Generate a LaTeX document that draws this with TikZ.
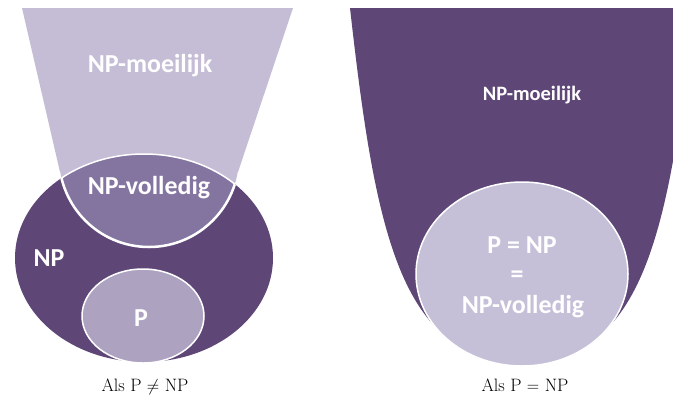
\documentclass[tikz,border=0pt]{standalone}
\usepackage{fontspec}
\usepackage{xcolor}
\usepackage{tikz}
\newfontfamily\setfont{Carlito}
\definecolor{np-dark}{RGB}{94, 71, 119}
\definecolor{np-light}{RGB}{197, 189, 214}
\definecolor{np-mid}{RGB}{132, 116, 160}
\definecolor{p-fill}{RGB}{173, 163, 193}
\definecolor{eq-fill}{RGB}{197, 191, 216}

\tikzset{
  set-label/.style = {text=white, inner sep=0pt, anchor=base,
    font=\setfont\bfseries\fontsize{26}{28}\selectfont},
  caption-label/.style = {inner sep=0pt, anchor=base,
    font=\fontsize{18}{20}\selectfont},
  set-edge/.style = {draw=white, line width=1.5bp}
}

\begin{document}
\begin{tikzpicture}[x=1bp, y=-1bp]
          \useasboundingbox (0, 0) rectangle (673, 400);
          \clip (0, 0) rectangle (673, 400);
          \fill[white] (0, 0) rectangle (673, 400);

          % als P != NP
          \coordinate (np-centre) at (144, 258);
          \coordinate (hard-centre) at (149, 157);
          \coordinate (p-centre) at (143, 316);

          \fill[np-light] (22, 8) -- (293, 8) -- (238, 172) -- (60, 172) -- cycle;
          \fill[np-light] (hard-centre) circle[radius=90];
          \fill[np-dark] (np-centre) ellipse[x radius=129, y radius=104];
          \begin{scope}
            \clip (np-centre) ellipse[x radius=129, y radius=104];
            \filldraw[fill=np-mid, set-edge, line width=2.5bp] (hard-centre) circle[radius=90];
          \end{scope}
          \begin{scope}
            \clip (hard-centre) circle[radius=90];
            \draw[set-edge] (np-centre) ellipse[x radius=129, y radius=104];
          \end{scope}
          \filldraw[fill=p-fill, set-edge] (p-centre) ellipse[x radius=61, y radius=47];

          \node[set-label] (hard-label) at (150, 72) {NP-moeilijk};
          \node[set-label] (complete-label) at (149, 194) {NP-volledig};
          \node[set-label] (np-label) at (49, 266) {NP};
          \node[set-label] (p-label) at (141, 326) {P};
          \node[caption-label] (unequal-caption) at (145, 391) {Als P $\neq$ NP};

          % als P = NP
          \coordinate (eq-centre) at (522, 274);

          \fill[np-dark] (350, 8) .. controls (375, 230) and (400, 362) .. (522, 362)
            .. controls (644, 362) and (669, 230) .. (694, 8) -- cycle;
          \filldraw[fill=eq-fill, set-edge] (eq-centre) ellipse[x radius=106, y radius=92];

          \node[set-label, font=\setfont\bfseries\fontsize{20.5}{22}\selectfont] (hard-label-eq) at (532, 100) {NP-moeilijk};
          \node[set-label] (p-np-label) at (522, 253) {P = NP};
          \node[set-label] (eq-sign) at (517, 282) {=};
          \node[set-label] (complete-label-eq) at (523, 313) {NP-volledig};
          \node[caption-label] (equal-caption) at (525, 391) {Als P $=$ NP};

        \end{tikzpicture}
\end{document}
